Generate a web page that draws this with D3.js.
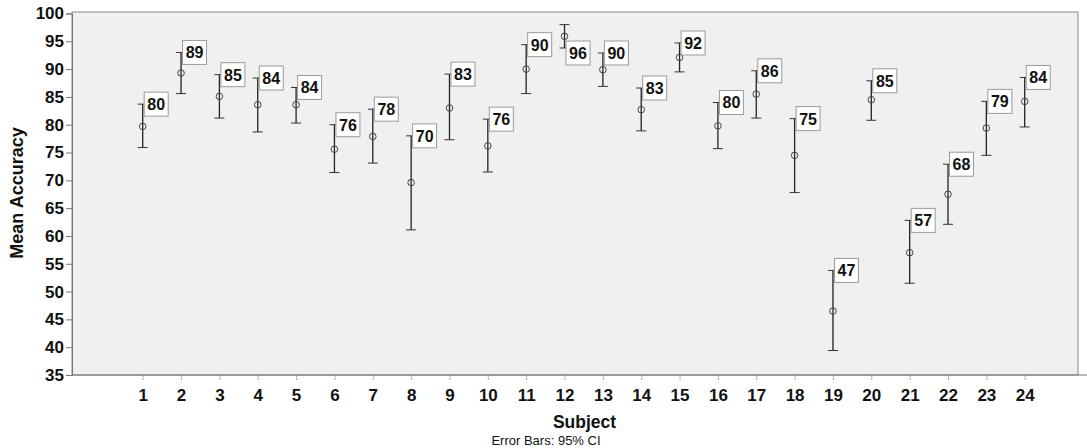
<!DOCTYPE html>
<html>
<head>
<meta charset="utf-8">
<script src="https://cdn.jsdelivr.net/npm/d3@7"></script>
<style>
  html, body { margin: 0; padding: 0; background: #ffffff; }
  svg { display: block; font-family: "Liberation Sans", Arial, sans-serif; }
</style>
</head>
<body>
<svg id="chart" width="1087" height="448"></svg>
<script>
// Subject numbers and per-subject mean accuracy with 95% confidence limits
const subjects = [1, 2, 3, 4, 5, 6, 7, 8, 9, 10, 11, 12, 13, 14, 15, 16, 17, 18, 19, 20, 21, 22, 23, 24];
const means    = [79.7, 89.3, 85.1, 83.6, 83.6, 75.6, 77.9, 69.6, 83.0, 76.2, 90.0, 95.9, 89.9, 82.7, 92.1, 79.8, 85.5, 74.5, 46.5, 84.5, 57.0, 67.5, 79.4, 84.2];
const ciLower  = [75.9, 85.6, 81.2, 78.7, 80.3, 71.4, 73.1, 61.1, 77.3, 71.5, 85.6, 93.8, 86.9, 78.9, 89.5, 75.7, 81.2, 67.8, 39.4, 80.8, 51.5, 62.1, 74.5, 79.6];
const ciUpper  = [83.7, 93.0, 89.0, 88.4, 86.7, 80.0, 82.8, 78.0, 89.1, 81.0, 94.4, 98.0, 92.9, 86.6, 94.7, 84.0, 89.7, 81.1, 53.8, 87.9, 62.8, 72.9, 84.2, 88.5];
const yTicks   = [35, 40, 45, 50, 55, 60, 65, 70, 75, 80, 85, 90, 95, 100];

const svg = d3.select("#chart");
const plot = { left: 72, right: 1078, top: 12, bottom: 375 };

const x = d3.scaleLinear().domain([1, 24]).range([142.7, 1024.7]);
const y = d3.scaleLinear().domain([35, 100]).range([plot.bottom, 13.5]);

// plot background
svg.append("rect")
  .attr("x", plot.left).attr("y", plot.top)
  .attr("width", plot.right - plot.left).attr("height", plot.bottom - plot.top)
  .attr("fill", "#f0f0f0").attr("stroke", "#8a8a8a").attr("stroke-width", 1);

// y axis
const yAxis = svg.append("g")
  .attr("transform", `translate(${plot.left},0)`)
  .call(d3.axisLeft(y).tickValues(yTicks).tickSize(6).tickPadding(2).tickFormat(d3.format("d")));
yAxis.select(".domain").attr("stroke", "#777");
yAxis.selectAll(".tick line").attr("stroke", "#777");
yAxis.selectAll(".tick text")
  .attr("font-size", 17).attr("font-weight", "bold").attr("fill", "#111")
  .attr("font-family", "Liberation Sans, Arial, sans-serif");

// x axis
const xAxis = svg.append("g")
  .attr("transform", `translate(0,${plot.bottom})`)
  .call(d3.axisBottom(x).tickValues(subjects).tickSize(6).tickPadding(8).tickFormat(d3.format("d")));
xAxis.select(".domain").remove();
xAxis.selectAll(".tick line").attr("stroke", "#999").attr("stroke-dasharray", "2,1");
xAxis.selectAll(".tick text")
  .attr("font-size", 17).attr("font-weight", "bold").attr("fill", "#111")
  .attr("font-family", "Liberation Sans, Arial, sans-serif");
svg.append("line")
  .attr("x1", plot.left).attr("x2", 1087)
  .attr("y1", plot.bottom).attr("y2", plot.bottom)
  .attr("stroke", "#777");

// axis titles
svg.append("text")
  .attr("transform", "translate(23,193) rotate(-90)")
  .attr("text-anchor", "middle")
  .attr("font-size", 18).attr("font-weight", "bold").attr("fill", "#111")
  .text("Mean Accuracy");
svg.append("text")
  .attr("x", 584.5).attr("y", 428)
  .attr("text-anchor", "middle")
  .attr("font-size", 17.5).attr("font-weight", "bold").attr("fill", "#111")
  .text("Subject");
svg.append("text")
  .attr("x", 546).attr("y", 445)
  .attr("text-anchor", "middle")
  .attr("font-size", 13).attr("fill", "#111")
  .text("Error Bars: 95% CI");

const rows = subjects.map((s, i) => ({ s, m: means[i], lo: ciLower[i], hi: ciUpper[i] }));

// error bars
const bars = svg.append("g").selectAll("g").data(rows).join("g");
bars.append("line")
  .attr("x1", d => x(d.s)).attr("x2", d => x(d.s))
  .attr("y1", d => y(d.hi)).attr("y2", d => y(d.lo))
  .attr("stroke", "#222").attr("stroke-width", 1.3);
bars.append("line")
  .attr("x1", d => x(d.s) - 5).attr("x2", d => x(d.s) + 5)
  .attr("y1", d => y(d.hi)).attr("y2", d => y(d.hi))
  .attr("stroke", "#333").attr("stroke-width", 1);
bars.append("line")
  .attr("x1", d => x(d.s) - 5).attr("x2", d => x(d.s) + 5)
  .attr("y1", d => y(d.lo)).attr("y2", d => y(d.lo))
  .attr("stroke", "#333").attr("stroke-width", 1);
bars.append("circle")
  .attr("cx", d => x(d.s)).attr("cy", d => y(d.m)).attr("r", 3.3)
  .attr("fill", "none").attr("stroke", "#444").attr("stroke-width", 1);

// value labels next to the upper limit (below the lower limit when near the top)
const boxW = 24, boxH = 24;
const labels = svg.append("g").selectAll("g").data(rows).join("g")
  .attr("transform", d => {
    let cy = y(d.hi);
    if (cy - boxH / 2 < plot.top + 2) cy = y(d.lo) + 5;
    return `translate(${x(d.s) + 1.5},${cy - boxH / 2})`;
  });
labels.append("rect")
  .attr("width", boxW).attr("height", boxH)
  .attr("fill", "#ffffff").attr("stroke", "#9a9a9a").attr("stroke-width", 1);
labels.append("text")
  .attr("x", boxW / 2).attr("y", boxH / 2 + 6)
  .attr("text-anchor", "middle")
  .attr("font-size", 16).attr("font-weight", "bold").attr("fill", "#111")
  .text(d => Math.round(d.m));
</script>
</body>
</html>
